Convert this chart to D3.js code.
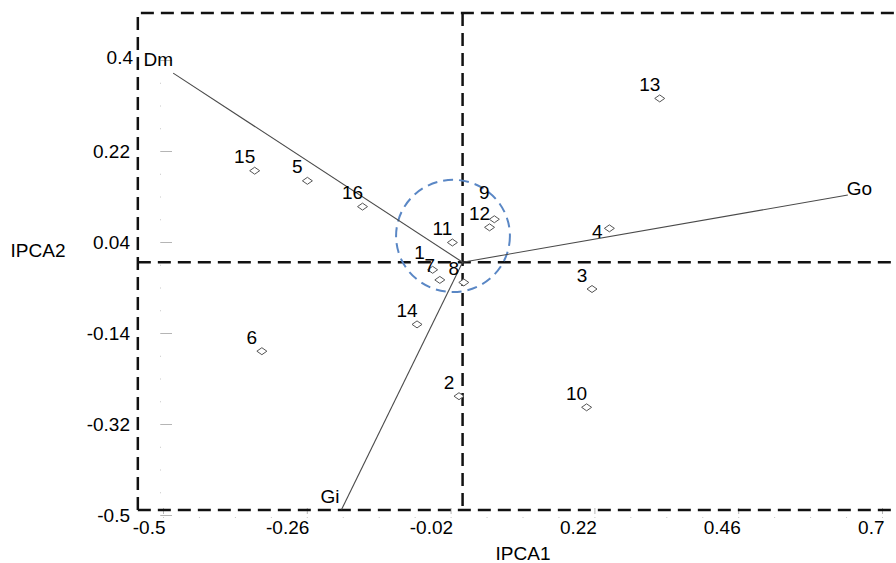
<!DOCTYPE html>
<html>
<head>
<meta charset="utf-8">
<script src="https://cdn.jsdelivr.net/npm/d3@7"></script>
<style>
  body { margin: 0; background: #fff; }
  text { font-family: "Liberation Sans", Arial, sans-serif; font-size: 19px; fill: #000; }
</style>
</head>
<body>
<script>
// genotype scores
var genotypes = ["1","2","3","4","5","6","7","8","9","10","11","12","13","14","15","16"];
var ipca1 = [-0.050, -0.006, 0.216, 0.245, -0.259, -0.335, -0.038, 0.002, 0.053, 0.207, -0.017, 0.045, 0.329, -0.076, -0.347, -0.167];
var ipca2 = [-0.015, -0.265, -0.053, 0.067, 0.161, -0.176, -0.035, -0.040, 0.085, -0.287, 0.039, 0.069, 0.324, -0.123, 0.181, 0.110];

// environment vectors
var envNames = ["Dm", "Go", "Gi"];
var envX = [-0.483, 0.643, -0.202];
var envY = [0.374, 0.133, -0.489];

// ticks
var xMajor = [-0.5, -0.26, -0.02, 0.22, 0.46, 0.7];
var yMajor = [0.4, 0.22, 0.04, -0.14, -0.32, -0.5];

var W = 896, H = 563;
var x = d3.scaleLinear().domain([-0.5, 0.7]).range([163, 882]);
var y = d3.scaleLinear().domain([-0.5, 0.4]).range([515, 60]);

var svg = d3.select("body").append("svg").attr("width", W).attr("height", H);

// minor tick values
var xMinor = d3.range(0, 21).map(function(i) { return +(-0.5 + i * 0.06).toFixed(3); });
var yMinor = d3.range(0, 21).map(function(i) { return +(-0.5 + i * 0.045).toFixed(4); });

// faint tick marks
var tickCol = "#b5b5b5";
svg.append("g").attr("transform", "translate(160,0)")
  .call(d3.axisRight(y).tickValues(yMajor).tickSize(12).tickFormat(""))
  .call(function(g) { g.select(".domain").remove(); g.selectAll("line").attr("stroke", tickCol); });
svg.append("g").attr("transform", "translate(160,0)")
  .call(d3.axisRight(y).tickValues(yMinor).tickSize(1).tickFormat(""))
  .call(function(g) { g.select(".domain").remove(); g.selectAll("line").attr("stroke", "#c8c8c8"); });
svg.append("g").attr("transform", "translate(0,508)")
  .call(d3.axisBottom(x).tickValues(xMajor).tickSize(6).tickFormat(""))
  .call(function(g) { g.select(".domain").remove(); g.selectAll("line").attr("stroke", tickCol); });
svg.append("g").attr("transform", "translate(0,517)")
  .call(d3.axisBottom(x).tickValues(xMinor).tickSize(1).tickFormat(""))
  .call(function(g) { g.select(".domain").remove(); g.selectAll("line").attr("stroke", "#c8c8c8"); });

// tick labels
var yAx = svg.append("g").attr("transform", "translate(130,0)")
  .call(d3.axisLeft(y).tickValues(yMajor).tickSize(0).tickPadding(0).tickFormat(function(d) { return String(d); }));
yAx.select(".domain").remove();
yAx.selectAll("text").attr("font-size", null).attr("font-family", null).style("font-size", "19px");
yAx.selectAll("text").filter(function(d) { return d === 0.4; }).attr("x", 3).attr("y", -3);

var xAx = svg.append("g").attr("transform", "translate(2,520)")
  .call(d3.axisBottom(x).tickValues(xMajor).tickSize(0).tickPadding(0).tickFormat(function(d) { return String(d); }));
xAx.select(".domain").remove();
xAx.selectAll("text").attr("text-anchor", "end").attr("font-size", null).attr("font-family", null).style("font-size", "19px");

// axis titles
svg.append("text").attr("x", 523).attr("y", 560).attr("text-anchor", "middle").text("IPCA1");
svg.append("text").attr("x", 38).attr("y", 257).attr("text-anchor", "middle").text("IPCA2");

// dashed frame and origin cross
var dash = { stroke: "#111", "stroke-width": 2.5, "stroke-dasharray": "13,7", fill: "none" };
function dashed(sel) { Object.keys(dash).forEach(function(k) { sel.attr(k, dash[k]); }); return sel; }
var fx0 = -0.542, fx1 = 0.73, fy0 = -0.49, fy1 = 0.493;
dashed(svg.append("path").attr("d",
  "M" + x(fx0) + "," + y(fy0) + "V" + y(fy1) + "H" + x(fx1)));
dashed(svg.append("path").attr("d",
  "M" + x(fx0) + "," + y(fy0) + "H" + x(fx1)));
dashed(svg.append("line").attr("x1", x(0)).attr("x2", x(0)).attr("y1", y(fy1)).attr("y2", y(fy0)));
dashed(svg.append("line").attr("x1", x(fx0)).attr("x2", x(fx1)).attr("y1", y(0)).attr("y2", y(0)));

// highlight circle
svg.append("ellipse")
  .attr("cx", x(-0.016)).attr("cy", y(0.052))
  .attr("rx", x(0.095) - x(0)).attr("ry", y(0) - y(0.111))
  .attr("fill", "none").attr("stroke", "#5a87c5").attr("stroke-width", 2)
  .attr("stroke-dasharray", "10,6");

// environment vectors
var envLab = [
  { anchor: "end", dx: 0, dy: -7 },
  { anchor: "start", dx: -1, dy: 0 },
  { anchor: "end", dx: -2, dy: -6 }
];
envNames.forEach(function(n, i) {
  svg.append("line")
    .attr("x1", x(0)).attr("y1", y(0)).attr("x2", x(envX[i])).attr("y2", y(envY[i]))
    .attr("stroke", "#4a4a4a").attr("stroke-width", 1.1);
  svg.append("text")
    .attr("x", x(envX[i]) + envLab[i].dx).attr("y", y(envY[i]) + envLab[i].dy)
    .attr("text-anchor", envLab[i].anchor).text(n);
});

// genotype points
var diamond = "M0,-3.5L5,0L0,3.5L-5,0Z";
var labOff = { "1": [-13, -17], "4": [-12, 3], "9": [-10, -27] };
genotypes.forEach(function(g, i) {
  var px = x(ipca1[i]), py = y(ipca2[i]);
  svg.append("path").attr("d", diamond).attr("transform", "translate(" + px + "," + py + ")")
    .attr("fill", "#fff").attr("stroke", "#555").attr("stroke-width", 1);
  var o = labOff[g] || [-10, -14];
  svg.append("text").attr("x", px + o[0]).attr("y", py + o[1])
    .attr("text-anchor", "middle").attr("dominant-baseline", "central").text(g);
});
</script>
</body>
</html>
